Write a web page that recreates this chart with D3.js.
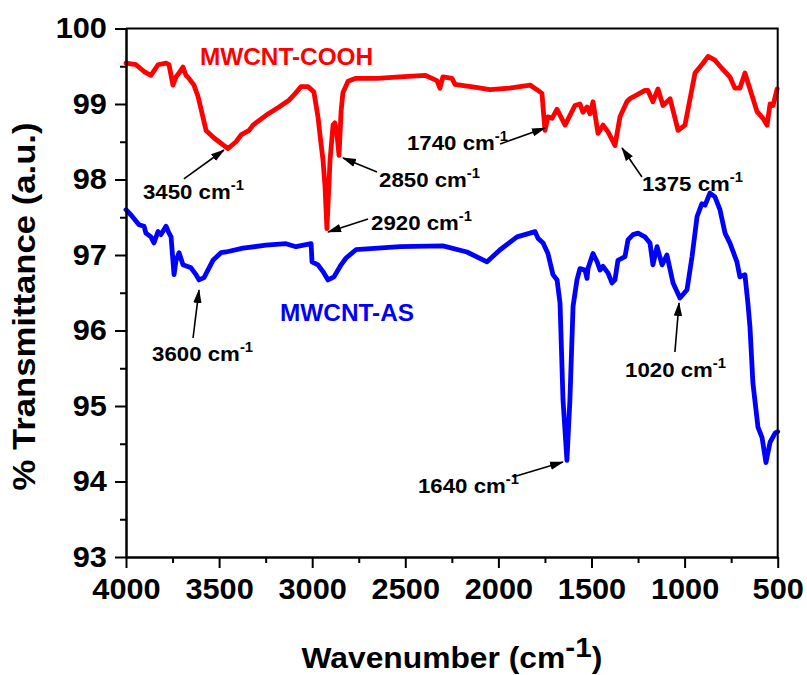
<!DOCTYPE html>
<html><head><meta charset="utf-8">
<script src="https://cdn.jsdelivr.net/npm/d3@7"></script>
<style>
body{margin:0;background:#fff}
text{font-family:"Liberation Sans",Arial,Helvetica,sans-serif;font-weight:bold;fill:#000}
</style>
</head><body>
<svg id="chart" width="807" height="675"></svg>
<script>
// ---------- data ----------
const wavenumberTicks = [4000, 3500, 3000, 2500, 2000, 1500, 1000, 500];
const wavenumberMinorTicks = [3750, 3250, 2750, 2250, 1750, 1250, 750];
const transmittanceTicks = [93, 94, 95, 96, 97, 98, 99, 100];
const transmittanceMinorTicks = [93.5, 94.5, 95.5, 96.5, 97.5, 98.5, 99.5];

const seriesNames = ["MWCNT-COOH", "MWCNT-AS"];
const seriesColors = ["#ff0000", "#0000ff"];

const coohWavenumber = [4000,3946,3903,3866,3828,3785,3769,3748,3731,3715,3694,3678,3662,3635,3613,3570,3527,3452,3409,3382,3339,3318,3248,3178,3125,3098,3060,3023,2991,2969,2953,2942,2931,2921,2904,2888,2878,2867,2856,2845,2835,2808,2765,2650,2529,2394,2330,2314,2298,2249,2233,2206,2120,2045,1940,1830,1793,1766,1750,1734,1712,1685,1642,1589,1562,1546,1524,1508,1492,1465,1438,1411,1374,1347,1310,1294,1256,1213,1197,1170,1143,1116,1078,1035,998,944,901,874,837,799,757,730,703,676,611,579,557,541,525,503];
const coohT = [99.54,99.52,99.43,99.38,99.52,99.54,99.52,99.25,99.36,99.41,99.49,99.38,99.34,99.25,99.10,98.65,98.55,98.41,98.50,98.59,98.65,98.72,98.85,98.96,99.05,99.12,99.23,99.23,99.16,98.83,98.48,98.26,97.90,97.35,98.26,98.72,98.75,98.60,98.32,98.90,99.15,99.30,99.34,99.34,99.36,99.38,99.31,99.21,99.36,99.34,99.26,99.25,99.22,99.19,99.21,99.25,99.19,99.14,98.65,98.83,98.81,98.93,98.72,98.98,99.00,98.89,98.96,98.87,99.03,98.61,98.72,98.63,98.45,98.83,99.03,99.07,99.12,99.18,99.18,99.03,99.20,98.98,99.07,98.65,98.72,99.41,99.54,99.63,99.58,99.47,99.36,99.21,99.21,99.41,98.90,98.81,98.72,99.00,98.98,99.20];

const asWavenumber = [4000,3973,3930,3903,3893,3866,3850,3828,3812,3785,3769,3758,3742,3731,3715,3694,3651,3624,3608,3581,3533,3490,3463,3372,3248,3141,3087,3006,3001,2969,2942,2915,2883,2845,2818,2765,2529,2298,2169,2061,1991,1900,1830,1803,1787,1760,1734,1707,1685,1669,1653,1632,1616,1599,1578,1562,1535,1524,1519,1492,1470,1454,1438,1411,1390,1374,1358,1320,1304,1277,1250,1213,1186,1170,1148,1121,1095,1062,1025,987,960,933,907,890,864,837,810,783,757,719,703,676,660,649,633,606,584,563,541,514,500];
const asT = [97.60,97.53,97.40,97.38,97.29,97.24,97.16,97.31,97.27,97.38,97.29,97.24,96.74,96.93,97.03,96.87,96.83,96.74,96.67,96.70,96.93,97.03,97.04,97.09,97.13,97.15,97.11,97.15,96.91,96.87,96.78,96.67,96.71,96.87,96.96,97.07,97.11,97.12,97.04,96.91,97.07,97.24,97.29,97.31,97.22,97.16,97.02,96.74,96.67,96.36,95.08,94.28,95.08,96.32,96.67,96.82,96.80,96.69,96.82,97.02,96.91,96.80,96.85,96.76,96.63,96.67,96.93,96.98,97.20,97.27,97.29,97.24,97.16,96.87,97.11,96.87,97.00,96.63,96.43,96.54,96.98,97.51,97.68,97.66,97.82,97.77,97.60,97.29,97.16,96.91,96.71,96.74,96.36,96.05,95.30,94.72,94.58,94.25,94.52,94.64,94.66];

// peak annotations: label, text anchor, arrow tail, arrow tip (wavenumber, %T)
const peakLabels = ["3450 cm", "2920 cm", "2850 cm", "1740 cm", "1375 cm", "3600 cm", "1020 cm", "1640 cm"];
const peakTextAt = [[3909,97.742],[2684,97.331],[2641,97.901],[2491,98.391],[1229,97.848],[3860,95.596],[1320,95.384],[2432,93.848]];
const peakTail   = [[3689,98.007],[2700,97.477],[2652,98.099],[1991,98.470],[1229,98.033],[3640,95.901],[1052,95.715],[1922,94.060]];
const peakTip    = [[3474,98.391],[2915,97.305],[2835,98.285],[1750,98.682],[1336,98.417],[3608,96.536],[1030,96.364],[1653,94.258]];

const seriesLabelAt = [[3603,99.517],[3173,96.126]];

const xTitle = "Wavenumber (cm";
const yTitle = "% Transmittance (a.u.)";

// ---------- layout ----------
const plot = {left: 126, right: 777.7, top: 28.5, bottom: 557};
const SX = 1.06; // horizontal glyph stretch of the original

const svg = d3.select("#chart");
const x = d3.scaleLinear().domain([4000, 500]).range([plot.left, plot.right]);
const y = d3.scaleLinear().domain([93, 100]).range([plot.bottom, plot.top]);

// series
const line = d3.line().x(d => x(d[0])).y(d => y(d[1]));
const series = [
  d3.zip(coohWavenumber, coohT),
  d3.zip(asWavenumber, asT)
];
svg.append("g").selectAll("path").data(series).join("path")
  .attr("d", line)
  .attr("fill", "none")
  .attr("stroke", (d, i) => seriesColors[i])
  .attr("stroke-width", 4.8)
  .attr("stroke-linejoin", "round")
  .attr("stroke-linecap", "round");

// axes
function styleAxis(g) {
  g.selectAll("path.domain").attr("stroke", "#000").attr("stroke-width", 2);
  g.selectAll(".tick line").attr("stroke", "#000").attr("stroke-width", 2);
  g.selectAll(".tick text").attr("font-size", 29)
    .attr("font-family", '"Liberation Sans",Arial,sans-serif')
    .attr("font-weight", "bold").attr("fill", "#000")
    .attr("transform", `scale(${SX},1)`);
}
svg.append("g").attr("transform", `translate(0,${plot.bottom})`)
  .call(d3.axisBottom(x).tickValues(wavenumberTicks).tickSize(11).tickSizeOuter(0).tickPadding(10).tickFormat(d3.format("d")))
  .call(styleAxis);
svg.append("g").attr("transform", `translate(0,${plot.bottom})`)
  .call(d3.axisBottom(x).tickValues(wavenumberMinorTicks).tickSize(6).tickSizeOuter(0).tickFormat(""))
  .call(styleAxis);
svg.append("g").attr("transform", `translate(${plot.left},0)`)
  .call(d3.axisLeft(y).tickValues(transmittanceTicks).tickSize(11).tickSizeOuter(0).tickPadding(7).tickFormat(d3.format("d")))
  .call(styleAxis);
svg.append("g").attr("transform", `translate(${plot.left},0)`)
  .call(d3.axisLeft(y).tickValues(transmittanceMinorTicks).tickSize(6).tickSizeOuter(0).tickFormat(""))
  .call(styleAxis);

// frame top + right
svg.append("path")
  .attr("d", `M${plot.left},${plot.top}H${plot.right}V${plot.bottom}`)
  .attr("fill", "none").attr("stroke", "#000").attr("stroke-width", 2);

// series labels
svg.append("g").selectAll("text").data(seriesNames).join("text")
  .attr("transform", (d, i) => `translate(${x(seriesLabelAt[i][0])},${y(seriesLabelAt[i][1])}) scale(${SX},1)`)
  .attr("font-size", 23)
  .style("fill", (d, i) => seriesColors[i])
  .text(d => d);

// annotations
const defs = svg.append("defs");
defs.append("marker").attr("id", "ah")
  .attr("viewBox", "0 -5 14 10").attr("refX", 13).attr("refY", 0)
  .attr("markerUnits", "userSpaceOnUse").attr("markerWidth", 14).attr("markerHeight", 10)
  .attr("orient", "auto")
  .append("path").attr("d", "M0,-4.2L14,0L0,4.2Z").attr("fill", "#000");

const ann = svg.append("g");
peakLabels.forEach((lab, i) => {
  ann.append("line")
    .attr("x1", x(peakTail[i][0])).attr("y1", y(peakTail[i][1]))
    .attr("x2", x(peakTip[i][0])).attr("y2", y(peakTip[i][1]))
    .attr("stroke", "#000").attr("stroke-width", 1.6)
    .attr("marker-end", "url(#ah)");
  const t = ann.append("text")
    .attr("transform", `translate(${x(peakTextAt[i][0])},${y(peakTextAt[i][1])}) scale(${SX},1)`)
    .attr("font-size", 21);
  t.append("tspan").text(lab);
  t.append("tspan").attr("font-size", 14).attr("dy", -9).text("-1");
});

// axis titles
const xt = svg.append("text")
  .attr("transform", `translate(${(plot.left + plot.right) / 2},668) scale(${SX},1)`)
  .attr("text-anchor", "middle").attr("font-size", 30);
xt.append("tspan").text(xTitle);
xt.append("tspan").attr("font-size", 28).attr("dy", -11).text("-1");
xt.append("tspan").attr("dy", 11).text(")");

svg.append("text")
  .attr("transform", `translate(35,${(120 + 493) / 2}) rotate(-90)`)
  .attr("text-anchor", "middle").attr("font-size", 31)
  .attr("textLength", 368).attr("lengthAdjust", "spacingAndGlyphs")
  .text(yTitle);
</script>
</body></html>
